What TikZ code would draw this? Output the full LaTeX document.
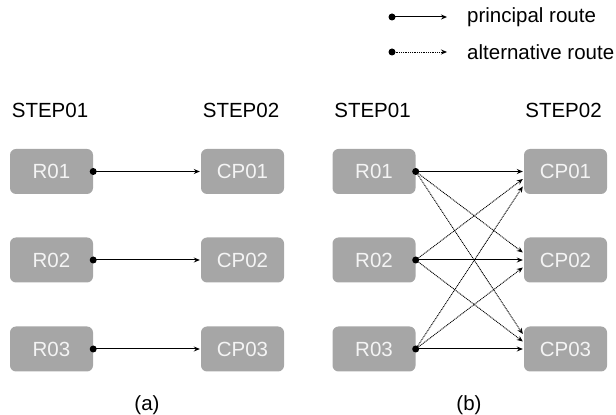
\documentclass[tikz,border=0pt]{standalone}
\usepackage{fontspec}
\setmainfont{Liberation Sans}
\usetikzlibrary{arrows.meta,calc}
\definecolor{boxgray}{HTML}{A6A6A6}
\definecolor{boxtext}{HTML}{F4F4F4}
\tikzset{
  stepbox/.style={rectangle, rounded corners=6pt, fill=boxgray, text=boxtext,
    minimum width=83pt, minimum height=45pt, inner sep=0pt,
    font=\fontsize{20.5}{24}\selectfont},
  label/.style={inner sep=0pt, font=\fontsize{20.5}{24}\selectfont},
  principal/.style={draw=black, line width=1pt, -{Stealth[length=6pt,width=5pt]}},
  alternative/.style={draw=black, line width=0.9pt, dash pattern=on 1pt off 0.8pt,
    -{Stealth[length=6pt,width=5pt]}},
  startdot/.style={circle, fill=black, inner sep=0pt, minimum size=7pt},
}
\begin{document}
\begin{tikzpicture}[x=1pt,y=1pt]
\useasboundingbox (0,0) rectangle (616,415);

% legend
\node[startdot] (lp) at (392,398) {};
\coordinate (lpe) at (447,398);
\draw[principal] (lp.center) -- (lpe);
\node[label, anchor=west] (lpt) at (467,398) {principal route};
\node[startdot] (la) at (392,363) {};
\coordinate (lae) at (447,363);
\draw[alternative] (la.center) -- (lae);
\node[label, anchor=west] (lat) at (467,363) {alternative route};

% panel (a)
\node[label, anchor=base] (sa1) at (50,297) {STEP01};
\node[label, anchor=base] (sa2) at (241,297) {STEP02};
\node[stepbox] (aR1) at (51.5,243.5) {R01};
\node[stepbox] (aR2) at (51.5,155) {R02};
\node[stepbox] (aR3) at (51.5,66) {R03};
\node[stepbox] (aC1) at (242.5,243.5) {CP01};
\node[stepbox] (aC2) at (242.5,155) {CP02};
\node[stepbox] (aC3) at (242.5,66) {CP03};
\foreach \i in {1,2,3}{
  \draw[principal] (aR\i.east) -- ([xshift=-1pt]aC\i.west);
  \node[startdot] at (aR\i.east) {};
}
\node[label] (capa) at (147,10) {(a)};

% panel (b)
\node[label, anchor=base] (sb1) at (372.5,297) {STEP01};
\node[label, anchor=base] (sb2) at (563.5,297) {STEP02};
\node[stepbox] (bR1) at (374,243.5) {R01};
\node[stepbox] (bR2) at (374,155) {R02};
\node[stepbox] (bR3) at (374,66) {R03};
\node[stepbox] (bC1) at (565.5,243.5) {CP01};
\node[stepbox] (bC2) at (565.5,155) {CP02};
\node[stepbox] (bC3) at (565.5,66) {CP03};
\foreach \i in {1,2,3}{
  \foreach \j in {1,2,3}{
    \ifnum\i=\j
      \draw[principal] (bR\i.east) -- ([xshift=-1pt]bC\j.west);
    \else
      \draw[alternative] (bR\i.east) -- ([xshift=-1pt,yshift={-(\i-\j)*7.5pt}]bC\j.west);
    \fi
  }
}
\foreach \i in {1,2,3}{
  \node[startdot] at (bR\i.east) {};
}
\node[label] (capb) at (469,10) {(b)};
\end{tikzpicture}
\end{document}
